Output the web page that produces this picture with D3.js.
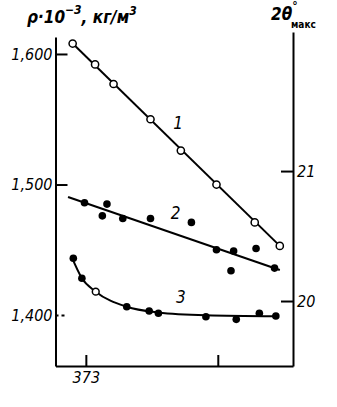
<!DOCTYPE html>
<html>
<head>
<meta charset="utf-8">
<script src="https://cdn.jsdelivr.net/npm/d3@7"></script>
<style>
  body { margin: 0; background: #fff; }
  text { font-family: "Liberation Sans Narrow", "DejaVu Sans Condensed", sans-serif; font-style: italic; fill: #000; }
</style>
</head>
<body>
<div id="chart"></div>
<script>
// curve 1: density (open circles)
var temp1 = [363, 380, 394, 422, 445, 472, 501, 520];
var dens1 = [1.608, 1.592, 1.577, 1.550, 1.526, 1.500, 1.471, 1.453];

// curve 2: density (filled dots) + straight fit
var temp2 = [372, 389, 385.5, 401, 422, 453, 472, 485, 502, 483, 516];
var dens2 = [1.486, 1.485, 1.476, 1.474, 1.474, 1.471, 1.450, 1.449, 1.451, 1.434, 1.436];
var fitTemp2 = [359.5, 520];
var fitDens2 = [1.4905, 1.4345];

// curve 3: 2theta max (right axis)
var temp3 = [363.5, 370, 380.5, 404, 421, 428, 464, 487, 504.5, 517];
var angle3 = [20.329, 20.175, 20.072, 19.956, 19.923, 19.906, 19.879, 19.859, 19.906, 19.885];
var open3 = [false, false, true, false, false, false, false, false, false, false];
var fitTemp3 = [362, 370, 380.5, 404, 428, 464, 517];
var fitAngle3 = [20.345, 20.175, 20.072, 19.956, 19.912, 19.89, 19.882];

// axes
var leftTicks = [1.4, 1.5, 1.6];
var leftLabels = ["1,400", "1,500", "1,600"];
var rightTicks = [20, 21];
var rightLabels = ["20", "21"];
var bottomTicks = [373, 473];
var bottomLabels = ["373", ""];

// curve numbers, placed in data units
var curveNames = ["1", "2", "3"];
var nameTemp = [443, 441, 445];
var nameVal = [1.547, 1.478, 20.03];

var width = 337, height = 407;

var svg = d3.select("#chart")
  .append("svg")
  .attr("width", width)
  .attr("height", height);

var x = d3.scaleLinear()
  .domain([350, 530])
  .range([55.5, 293]);

var yL = d3.scaleLinear()
  .domain([1.361, 1.613])
  .range([366, 37]);

var yR = d3.scaleLinear()
  .domain([19.5, 22.07])
  .range([366, 32]);

// left axis, ticks pointing in
var gLeft = svg.append("g")
  .attr("transform", "translate(" + x(350) + ",0)")
  .call(d3.axisLeft(yL)
    .tickValues(leftTicks)
    .tickSize(-12)
    .tickSizeOuter(0)
    .tickPadding(3)
    .tickFormat(function(d, i) { return leftLabels[i]; }));
gLeft.select(".domain").attr("stroke-width", 2);
gLeft.selectAll(".tick line").attr("stroke-width", 2)
  .attr("stroke-dasharray", function(d) { return d === 1.4 ? "3,3" : null; });
gLeft.selectAll(".tick text").style("font-size", "16px").attr("font-family", null);

// right axis, ticks pointing in
var gRight = svg.append("g")
  .attr("transform", "translate(" + x(530) + ",0)")
  .call(d3.axisRight(yR)
    .tickValues(rightTicks)
    .tickSize(-12)
    .tickSizeOuter(0)
    .tickPadding(4)
    .tickFormat(function(d, i) { return rightLabels[i]; }));
gRight.select(".domain").attr("stroke-width", 2);
gRight.selectAll(".tick line").attr("stroke-width", 2);
gRight.selectAll(".tick text").style("font-size", "16px").attr("font-family", null);

// bottom axis
var gBottom = svg.append("g")
  .attr("transform", "translate(0," + yL(1.361) + ")")
  .call(d3.axisBottom(x)
    .tickValues(bottomTicks)
    .tickSize(-11)
    .tickSizeOuter(0)
    .tickPadding(6)
    .tickFormat(function(d, i) { return bottomLabels[i]; }));
gBottom.select(".domain").attr("stroke-width", 2);
gBottom.selectAll(".tick line").attr("stroke-width", 2);
gBottom.selectAll(".tick text").style("font-size", "16px").attr("font-family", null);

// line 1: straight through first and last points
var ends1 = [0, temp1.length - 1];
var line1 = d3.line()
  .x(function(d) { return x(temp1[d]); })
  .y(function(d) { return yL(dens1[d]); });

svg.append("path")
  .attr("d", line1(ends1))
  .attr("fill", "none")
  .attr("stroke", "#000")
  .attr("stroke-width", 2);

var line2 = d3.line()
  .x(function(d, i) { return x(fitTemp2[i]); })
  .y(function(d) { return yL(d); });

svg.append("path")
  .attr("d", line2(fitDens2))
  .attr("fill", "none")
  .attr("stroke", "#000")
  .attr("stroke-width", 2);

var line3 = d3.line()
  .x(function(d, i) { return x(fitTemp3[i]); })
  .y(function(d) { return yR(d); })
  .curve(d3.curveMonotoneX);

svg.append("path")
  .attr("d", line3(fitAngle3))
  .attr("fill", "none")
  .attr("stroke", "#000")
  .attr("stroke-width", 2);

// markers
svg.selectAll(".p1")
  .data(dens1)
  .enter()
  .append("circle")
    .attr("class", "p1")
    .attr("cx", function(d, i) { return x(temp1[i]); })
    .attr("cy", function(d) { return yL(d); })
    .attr("r", 3.6)
    .attr("fill", "#fff")
    .attr("stroke", "#000")
    .attr("stroke-width", 1.5);

svg.selectAll(".p2")
  .data(dens2)
  .enter()
  .append("circle")
    .attr("class", "p2")
    .attr("cx", function(d, i) { return x(temp2[i]); })
    .attr("cy", function(d) { return yL(d); })
    .attr("r", 3.8)
    .attr("fill", "#000");

svg.selectAll(".p3")
  .data(angle3)
  .enter()
  .append("circle")
    .attr("class", "p3")
    .attr("cx", function(d, i) { return x(temp3[i]); })
    .attr("cy", function(d) { return yR(d); })
    .attr("r", function(d, i) { return open3[i] ? 3.4 : 3.8; })
    .attr("fill", function(d, i) { return open3[i] ? "#fff" : "#000"; })
    .attr("stroke", "#000")
    .attr("stroke-width", function(d, i) { return open3[i] ? 1.5 : 0; });

// curve numbers
svg.selectAll(".cname")
  .data(curveNames)
  .enter()
  .append("text")
    .attr("class", "cname")
    .attr("x", function(d, i) { return x(nameTemp[i]); })
    .attr("y", function(d, i) { return i === 2 ? yR(nameVal[i]) : yL(nameVal[i]); })
    .attr("dy", "0.35em")
    .attr("text-anchor", "middle")
    .style("font-size", "17px")
    .text(function(d) { return d; });

// axis titles
var tl = svg.append("text")
  .attr("x", 27)
  .attr("y", 23)
  .style("font-size", "17px")
  .style("font-weight", "bold");
tl.append("tspan").text("ρ·10");
tl.append("tspan").attr("dy", -9).style("font-size", "12px").text("−3");
tl.append("tspan").attr("dy", 9).text(", кг/м");
tl.append("tspan").attr("dy", -8).style("font-size", "12px").text("3");

var tr = svg.append("text")
  .attr("x", 271)
  .attr("y", 20)
  .style("font-size", "17px")
  .style("font-weight", "bold");
tr.append("tspan").text("2θ");
tr.append("tspan").attr("dy", -10).style("font-size", "12px").text("°");
tr.append("tspan").attr("x", 291).attr("y", 28).style("font-size", "10px").style("font-style", "normal").text("макс");
</script>
</body>
</html>
